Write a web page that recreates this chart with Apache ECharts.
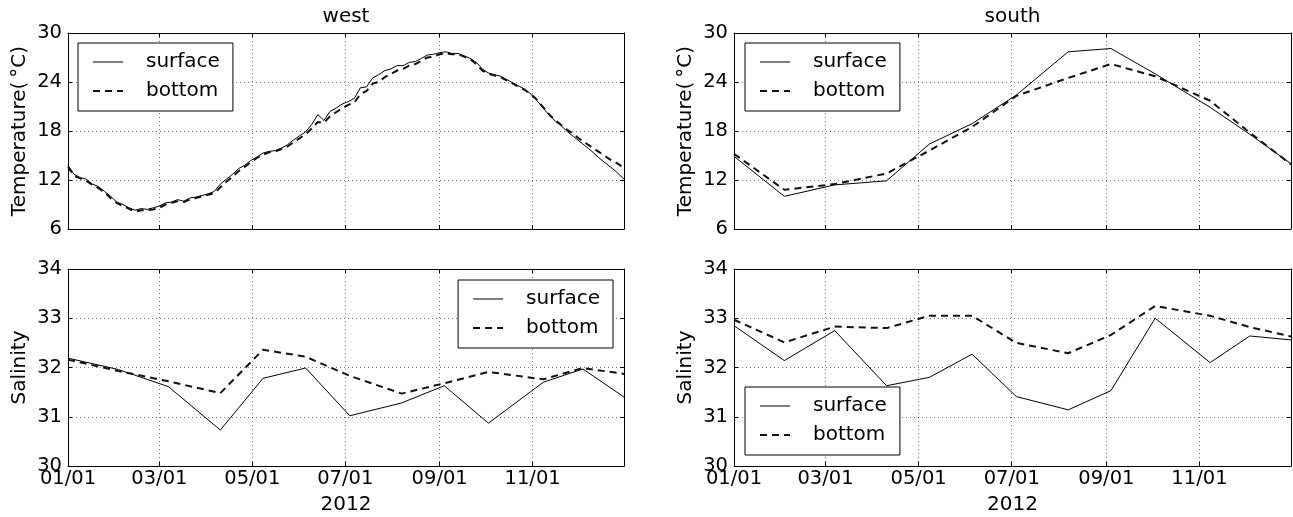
<!DOCTYPE html>
<html><head><meta charset="utf-8">
<script src="https://cdn.jsdelivr.net/npm/echarts@6/dist/echarts.min.js"></script>
<style>html,body{margin:0;padding:0;background:#fff}#c{width:1293px;height:517px}</style>
</head><body><div id="c"></div>
<script>
// ---------- labels / ticks ----------
const panelTitles = ['west', 'south'];
const seriesNames = ['surface', 'bottom'];
const xAxisName = '2012';
const tempAxisName = 'Temperature(\u2009\u00b0C)';
const salAxisName = 'Salinity';
const tickDays = [0, 60, 121, 182, 244, 305];          // day offsets from 2012-01-01
const tickLabels = ['01/01', '03/01', '05/01', '07/01', '09/01', '11/01'];
const tempRange = [6, 30, 6];
const salRange = [30, 34, 1];

// ---------- west temperature (near-continuous record), day offsets ----------
const westTempDays = [0,4,8,12,16,20,24,28,32,36,40,44,48,52,56,60,64,68,72,76,80,84,88,92,96,100,104,108,112,116,120,124,128,132,136,140,144,148,152,156,160,164,168,172,176,180,184,188,192,196,200,204,208,212,216,220,224,228,232,236,240,244,248,252,256,260,264,268,272,276,280,284,288,292,296,300,304,308,312,316,320,324,328,332,336,340,344,348,352,356,360,365];
const westTempSurface = [
13.8,12.7,12.3,12.1,11.5,11.2,10.6,10.0,9.3,9.0,
8.6,8.3,8.5,8.4,8.6,8.8,9.2,9.3,9.6,9.4,
9.8,9.9,10.1,10.3,10.6,11.5,12.1,12.7,13.4,13.8,
14.4,14.8,15.3,15.5,15.6,15.9,16.3,16.9,17.4,17.9,
18.8,20.0,19.3,20.4,20.8,21.3,21.6,22.0,23.3,23.4,
24.5,24.9,25.4,25.6,26.0,26.0,26.4,26.5,26.9,27.3,
27.4,27.6,27.7,27.5,27.5,27.2,26.9,26.4,25.6,25.1,
24.9,24.7,24.3,23.9,23.5,23.1,22.5,21.7,20.8,19.9,
19.2,18.6,17.9,17.3,16.7,16.1,15.5,14.8,14.2,13.6,
13.0,12.1];
const westTempBottom = [
13.6,12.5,12.2,11.9,11.4,11.0,10.5,9.8,9.2,8.8,
8.5,8.1,8.3,8.3,8.4,8.6,9.0,9.2,9.4,9.3,
9.6,9.8,10.0,10.2,10.4,11.1,11.8,12.4,13.1,13.6,
14.2,14.7,15.1,15.4,15.5,15.8,16.1,16.6,17.1,17.6,
18.3,19.1,19.0,19.8,20.3,20.8,21.2,21.5,22.5,22.9,
23.8,24.0,24.6,25.0,25.4,25.6,26.0,26.2,26.6,27.0,
27.1,27.4,27.5,27.4,27.4,27.1,26.8,26.2,25.4,25.0,
24.8,24.6,24.2,23.8,23.4,23.0,22.5,21.8,20.9,20.0,
19.3,18.7,18.1,17.6,17.0,16.5,16.0,15.5,15.0,14.5,
14.1,13.5];

// ---------- cruise samples, day offsets ----------
const cruiseDays = [0, 33, 66, 100, 128, 156, 185, 219, 247, 276, 312, 338, 365];
const southTempSurface = [14.9, 10.0, 11.4, 11.9, 16.4, 18.9, 22.4, 27.7, 28.1, 25.0, 20.9, 17.6, 14.0];
const southTempBottom  = [15.2, 10.8, 11.5, 12.8, 15.6, 18.5, 22.3, 24.5, 26.2, 24.7, 21.7, 17.8, 13.9];
const westSalSurface   = [32.19, 31.96, 31.61, 30.73, 31.78, 31.99, 31.02, 31.28, 31.63, 30.87, 31.70, 31.97, 31.40];
const westSalBottom    = [32.16, 31.93, 31.72, 31.48, 32.36, 32.22, 31.83, 31.47, 31.68, 31.91, 31.76, 31.99, 31.87];
const southSalSurface  = [32.85, 32.14, 32.75, 31.63, 31.80, 32.27, 31.41, 31.14, 31.53, 33.00, 32.10, 32.64, 32.56];
const southSalBottom   = [32.97, 32.51, 32.83, 32.80, 33.05, 33.05, 32.50, 32.29, 32.66, 33.25, 33.05, 32.82, 32.63];

// ---------- build ----------
const FONT = 'DejaVu Sans';
const pairs = (days, vals) => days.map((d, i) => [d, vals[i]]);

const grids = [
  {left: 68, top: 33, width: 556, height: 196},
  {left: 734, top: 33, width: 557, height: 196},
  {left: 68, top: 269, width: 556, height: 197},
  {left: 734, top: 269, width: 557, height: 197}
];

const black = '#000';
const gridLine = {show: true, lineStyle: {color: '#000', width: 1, type: [1, 3], opacity: 0.55}};
const axLine = {show: true, onZero: false, lineStyle: {color: black, width: 1}};
const tick = {show: true, inside: true, length: 4, lineStyle: {color: black, width: 1}, customValues: tickDays};

const xAxis = [], yAxis = [];
grids.forEach((g, i) => {
  const bottomRow = i >= 2;
  xAxis.push({
    gridIndex: i, type: 'value', position: 'bottom', min: 0, max: 365,
    axisLine: axLine, axisTick: tick, splitLine: gridLine,
    axisLabel: {show: bottomRow, customValues: tickDays, fontFamily: FONT, fontSize: 19.5, color: black, margin: 3,
      formatter: v => { const k = tickDays.indexOf(v); return k >= 0 ? tickLabels[k] : ''; }},
    name: bottomRow ? xAxisName : '', nameLocation: 'middle', nameGap: 29,
    nameTextStyle: {fontFamily: FONT, fontSize: 20, color: black}
  });
  xAxis.push({
    gridIndex: i, type: 'value', position: 'top', min: 0, max: 365,
    axisLine: axLine, axisTick: tick, splitLine: {show: false}, axisLabel: {show: false, customValues: tickDays}
  });
  const r = i < 2 ? tempRange : salRange;
  yAxis.push({
    gridIndex: i, type: 'value', position: 'left', min: r[0], max: r[1], interval: r[2],
    axisLine: axLine, axisTick: {show: true, inside: true, length: 4, lineStyle: {color: black}},
    splitLine: gridLine,
    axisLabel: {fontFamily: FONT, fontSize: 19.5, color: black, margin: 6},
    name: i < 2 ? tempAxisName : salAxisName, nameLocation: 'middle', nameGap: 38,
    nameTextStyle: {fontFamily: FONT, fontSize: 20, color: black}
  });
  yAxis.push({
    gridIndex: i, type: 'value', position: 'right', min: r[0], max: r[1], interval: r[2],
    axisLine: axLine, axisTick: {show: true, inside: true, length: 4, lineStyle: {color: black}},
    splitLine: {show: false}, axisLabel: {show: false}
  });
});

const panelData = [
  [pairs(westTempDays, westTempSurface), pairs(westTempDays, westTempBottom)],
  [pairs(cruiseDays, southTempSurface), pairs(cruiseDays, southTempBottom)],
  [pairs(cruiseDays, westSalSurface), pairs(cruiseDays, westSalBottom)],
  [pairs(cruiseDays, southSalSurface), pairs(cruiseDays, southSalBottom)]
];
const series = [];
panelData.forEach((pd, i) => {
  series.push({name: seriesNames[0], type: 'line', xAxisIndex: 2 * i, yAxisIndex: 2 * i, data: pd[0],
    symbol: 'none', showSymbol: false, lineStyle: {color: black, width: 1}, itemStyle: {color: black}, z: 3});
  series.push({name: seriesNames[1], type: 'line', xAxisIndex: 2 * i, yAxisIndex: 2 * i, data: pd[1],
    symbol: 'none', showSymbol: false, lineStyle: {color: '#111', width: 2, type: [7, 5]}, itemStyle: {color: '#111'}, z: 4});
});

const legendBase = {
  data: seriesNames, orient: 'vertical', itemWidth: 30, itemHeight: 14, itemGap: 9,
  padding: [9, 13, 10, 14], borderColor: black, borderWidth: 1, borderRadius: 0, backgroundColor: '#fff',
  selectedMode: false,
  itemStyle: {opacity: 0, borderWidth: 0},
  lineStyle: {width: 'inherit', type: 'inherit', color: 'inherit'},
  textStyle: {fontFamily: FONT, fontSize: 20, color: black, lineHeight: 20, padding: [0, 0, 0, 18]}
};
const legend = [
  Object.assign({}, legendBase, {left: 78, top: 43}),
  Object.assign({}, legendBase, {left: 745, top: 43}),
  Object.assign({}, legendBase, {right: 680, top: 280}),
  Object.assign({}, legendBase, {left: 745, top: 387})
];

const title = panelTitles.map((t, i) => ({
  text: t, left: i === 0 ? 346 : 1012.5, top: 7, textAlign: 'center', padding: 0,
  textStyle: {fontFamily: FONT, fontSize: 20, fontWeight: 'normal', color: black}
}));

const chart = echarts.init(document.getElementById('c'), null, {renderer: 'canvas'});
chart.setOption({animation: false, backgroundColor: '#fff', title, legend, grid: grids, xAxis, yAxis, series});
</script></body></html>
